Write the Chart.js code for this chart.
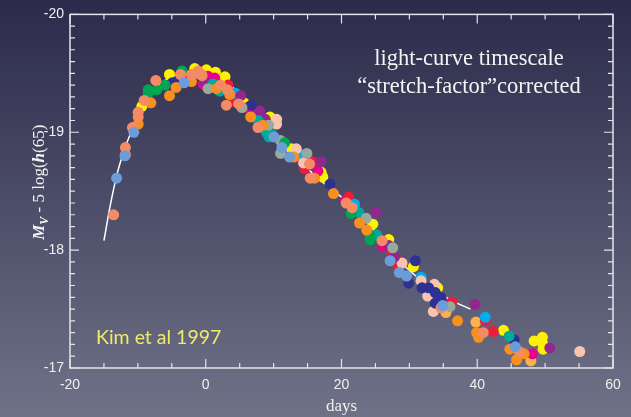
<!DOCTYPE html>
<html lang="en">
<head>
<meta charset="UTF-8">
<title>SN Ia light curves</title>
<script src="https://cdn.jsdelivr.net/npm/chart.js"></script>
<style>
  html, body { margin: 0; padding: 0; }
  body { background: linear-gradient(#2b2a4b, #6f7287); width: 631px; height: 417px; }
  #wrap { position: relative; width: 631px; height: 417px; }
</style>
</head>
<body>
<div id="wrap"><canvas id="chart"></canvas></div>
<script>
// template curve (day, M_V)
const templateCurve = [
  [-15, -18.08], [-14, -18.40], [-13, -18.66], [-12, -18.85], [-11, -19.00], [-10, -19.13],
  [-9, -19.24], [-8, -19.33], [-7, -19.39], [-6, -19.44], [-5, -19.47], [-4, -19.49],
  [-2, -19.52], [0, -19.52], [2, -19.48], [4, -19.38], [6, -19.25], [8, -19.12],
  [10, -18.99], [12, -18.86], [14, -18.74], [16, -18.64], [18, -18.54], [20, -18.45],
  [22, -18.34], [24, -18.22], [26, -18.09], [28, -17.94], [30, -17.83], [32, -17.73],
  [34, -17.65], [36, -17.58], [37, -17.55], [39, -17.50]
];

// individual supernovae, one array per colour
const orange = [[-9.95,-19.07],[-8.09,-19.25],[-5.34,-19.31],[-4.37,-19.38],[-2.1,-19.43],[1.57,-19.37],[3.53,-19.32],[6.62,-19.13],[8.43,-19.06],[12.99,-18.79],[16.03,-18.61],[18.82,-18.48],[22.65,-18.23],[23.72,-18.17],[37.1,-17.40],[39.9,-17.30],[40.19,-17.26],[44.8,-17.16],[46.91,-17.12],[45.79,-17.07]];
const salmon = [[-13.57,-18.30],[-11.84,-18.87],[-11.84,-18.81],[-10.8,-19.04],[-9.95,-19.17],[-9.95,-19.13],[-9.07,-19.27],[-7.35,-19.44],[-3.72,-19.49],[-2.1,-19.49],[-1.13,-19.52],[-0.63,-19.49],[-1.22,-19.50],[-0.54,-19.48],[2.21,-19.40],[3.19,-19.36],[3.04,-19.23],[4.85,-19.24],[7.69,-19.04],[15.29,-18.73],[15.39,-18.61],[20.69,-18.40],[21.57,-18.36],[25.98,-18.08],[34.66,-17.51],[40.88,-17.30],[46.18,-17.14]];
const yellow = [[-9.41,-19.22],[-5.34,-19.49],[-1.62,-19.54],[0.1,-19.53],[1.43,-19.51],[2.84,-19.47],[5.63,-19.25],[9.46,-19.13],[12.6,-18.86],[17.0,-18.66],[17.25,-18.62],[24.61,-18.22],[26.96,-18.09],[30.59,-17.86],[34.17,-17.68],[43.87,-17.32],[48.38,-17.23],[49.6,-17.26],[49.6,-17.21],[49.7,-17.16]];
const green = [[-8.48,-19.36],[-8.48,-19.33],[-7.21,-19.36],[-5.99,-19.40],[-3.49,-19.52],[11.62,-18.91],[21.42,-18.31],[24.22,-18.12],[24.22,-18.09]];
const teal = [[1.08,-19.41],[2.06,-19.35],[7.69,-19.10],[8.92,-19.0],[9.3,-18.96],[9.75,-18.98],[22.55,-18.32],[25.19,-18.13],[44.7,-17.27]];
const cyan = [[4.37,-19.33],[14.07,-18.81],[21.91,-18.39],[31.72,-17.77],[41.18,-17.43]];
const navy = [[-4.9,-19.42],[-4.07,-19.44],[6.72,-19.23],[18.32,-18.56],[30.88,-17.91],[29.9,-17.72],[31.86,-17.68],[32.84,-17.68],[33.82,-17.64],[34.66,-17.60],[33.82,-17.55],[45.44,-17.24]];
const magenta = [[-0.4,-19.41],[0.34,-19.475],[1.32,-19.46],[6.13,-19.21],[7.1,-19.17],[14.31,-18.74],[16.52,-18.67],[20.59,-18.42],[26.18,-18.03],[32.94,-17.63],[35.78,-17.54],[48.13,-17.12]];
const red = [[-3.19,-19.45],[3.29,-19.40],[4.26,-19.26],[15.69,-18.75],[14.56,-18.69],[21.07,-18.45],[27.45,-17.98],[28.28,-17.91],[28.28,-17.87],[36.28,-17.56],[41.18,-17.40],[42.35,-17.31]];
const purple = [[-0.15,-19.43],[5.15,-19.31],[7.94,-19.18],[8.77,-19.11],[17.0,-18.75],[25.1,-18.32],[26.96,-18.04],[27.8,-17.94],[39.7,-17.54],[50.69,-17.17]];
const grayGreen = [[0.34,-19.37],[5.34,-19.21],[9.26,-19.06],[11.03,-18.93],[11.03,-18.82],[14.9,-18.82],[23.63,-18.27],[27.55,-18.02],[35.98,-17.52]];
const lightBlue = [[-13.13,-18.61],[-11.9,-18.80],[-10.6,-19.0],[-3.19,-19.42],[10.05,-18.96],[11.22,-18.87],[12.35,-18.79],[27.16,-17.91],[28.53,-17.81],[29.6,-17.78],[34.9,-17.53],[45.59,-17.18]];
const peach = [[10.44,-19.11],[10.44,-19.07],[13.34,-18.86],[14.41,-18.74],[28.92,-17.89],[31.72,-17.74],[33.68,-17.71],[32.7,-17.61],[33.53,-17.48],[55.1,-17.14]];
const lightOrange = [[35.39,-17.47],[39.8,-17.39],[47.9,-17.06]];

const xTicks = [-20, 0, 20, 40, 60];
const yTicks = [-20, -19, -18, -17];

const groups = [
  [lightBlue, '#6d9dd8'], [salmon, '#f58b64'], [orange, '#f7901e'], [green, '#00a651'],
  [grayGreen, '#98a99f'], [teal, '#00a99d'], [navy, '#2e3192'], [purple, '#92278f'],
  [peach, '#f9c4ad'], [cyan, '#00aeef'], [red, '#ed1c3c'], [magenta, '#ec008c'],
  [yellow, '#fff200'], [lightOrange, '#fbb24c']
];

const toXY = arr => arr.map(p => ({ x: p[0], y: p[1] }));

const datasets = groups.map(([pts, col]) => ({
  type: 'scatter',
  data: toXY(pts),
  backgroundColor: col,
  borderWidth: 0,
  pointRadius: 5.5,
  pointHoverRadius: 5.5,
  order: 1
}));
datasets.push({
  type: 'line',
  data: toXY(templateCurve),
  borderColor: '#ffffff',
  borderWidth: 1.5,
  pointRadius: 0,
  tension: 0.4,
  fill: false,
  order: 10
});

// frame, inward ticks, y-axis label and the text notes
const decor = {
  id: 'decor',
  afterDraw(chart) {
    const { ctx, chartArea: a, scales: { x, y } } = chart;
    ctx.save();
    ctx.strokeStyle = '#e4e4ea';
    ctx.lineWidth = 1.5;
    ctx.strokeRect(a.left, a.top, a.right - a.left, a.bottom - a.top);

    ctx.lineWidth = 1.2;
    ctx.beginPath();
    for (let d = -20; d <= 60; d += 5) {
      const px = x.getPixelForValue(d);
      const len = d % 20 === 0 ? 9 : 5;
      ctx.moveTo(px, a.bottom); ctx.lineTo(px, a.bottom - len);
      ctx.moveTo(px, a.top); ctx.lineTo(px, a.top + len);
    }
    for (let i = 0; i <= 30; i++) {
      const py = y.getPixelForValue(-20 + i / 10);
      const len = i % 10 === 0 ? 9 : 5;
      ctx.moveTo(a.left, py); ctx.lineTo(a.left + len, py);
      ctx.moveTo(a.right, py); ctx.lineTo(a.right - len, py);
    }
    ctx.stroke();

    // rotated axis label: M_V - 5 log(h(65))
    const serif = '"Liberation Serif", "Times New Roman", serif';
    const parts = [
      ['bold italic 17px ' + serif, 'M', 0],
      ['bold italic 12px ' + serif, 'V', 4],
      ['17px ' + serif, ' - 5 log(', 0],
      ['bold italic 17px ' + serif, 'h', 0],
      ['17px ' + serif, '(65)', 0]
    ];
    let total = 0;
    parts.forEach(p => { ctx.font = p[0]; total += ctx.measureText(p[1]).width; });
    ctx.translate(44, (a.top + a.bottom) / 2 - 9);
    ctx.rotate(-Math.PI / 2);
    ctx.fillStyle = '#f2f2f2';
    ctx.textBaseline = 'alphabetic';
    let cx = -total / 2;
    parts.forEach(p => {
      ctx.font = p[0];
      ctx.fillText(p[1], cx, p[2]);
      cx += ctx.measureText(p[1]).width;
    });
    ctx.restore();

    ctx.save();
    ctx.fillStyle = '#f4f4f4';
    ctx.font = '22.5px ' + serif;
    ctx.textAlign = 'center';
    ctx.fillText('light-curve timescale', 469, 65);
    ctx.fillText('\u201cstretch-factor\u201dcorrected', 469, 93);
    ctx.fillStyle = '#f0ea6a';
    ctx.font = '19.5px Lato, sans-serif';
    ctx.textAlign = 'left';
    ctx.fillText('Kim et al 1997', 96, 344);
    ctx.restore();
  }
};

const tickFont = { family: '"Liberation Sans", Arial, sans-serif', size: 14 };

new Chart(document.getElementById('chart'), {
  data: { datasets },
  options: {
    responsive: true,
    maintainAspectRatio: false,
    animation: false,
    layout: { padding: { top: 7, right: 18, left: 0, bottom: 0 } },
    plugins: { legend: { display: false }, tooltip: { enabled: false } },
    scales: {
      x: {
        type: 'linear', position: 'bottom', min: -20, max: 60,
        afterBuildTicks: s => { s.ticks = xTicks.map(v => ({ value: v })); },
        afterFit: s => { s.height = 49; },
        grid: { display: false, drawTicks: false },
        border: { display: false },
        ticks: { color: '#f0f0f0', font: tickFont, padding: 9 },
        title: {
          display: true, text: 'days', color: '#f0f0f0',
          font: { family: '"Liberation Serif", "Times New Roman", serif', size: 17 },
          padding: { top: 0, bottom: 0 }
        }
      },
      y: {
        type: 'linear', reverse: true, min: -20, max: -17,
        afterBuildTicks: s => { s.ticks = yTicks.map(v => ({ value: v })); },
        afterFit: s => { s.width = 70; },
        grid: { display: false, drawTicks: false },
        border: { display: false },
        ticks: { color: '#f0f0f0', font: tickFont, padding: 6 }
      }
    }
  },
  plugins: [decor]
});
</script>
</body>
</html>
